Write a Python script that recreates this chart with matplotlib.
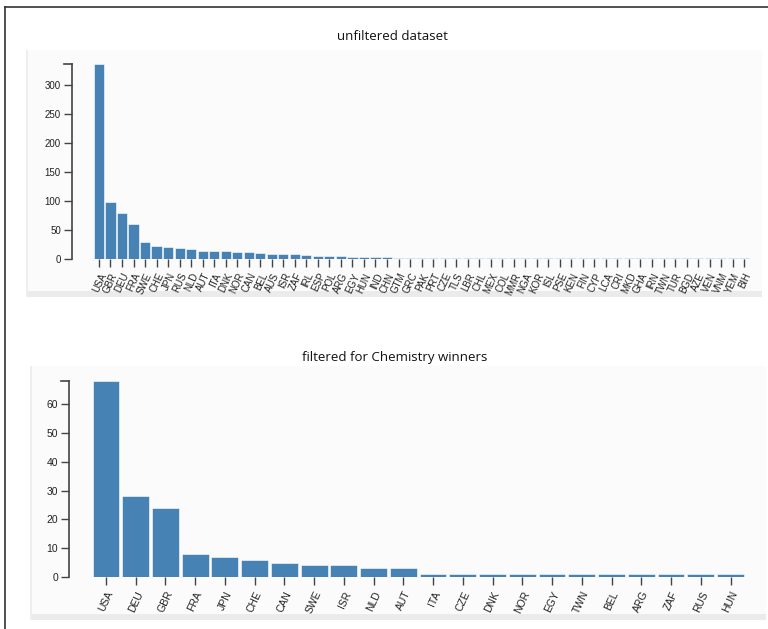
import matplotlib.pyplot as plt
from matplotlib.patches import Rectangle
from matplotlib.lines import Line2D

# all winners by country
all_countries = ['USA', 'GBR', 'DEU', 'FRA', 'SWE', 'CHE', 'JPN', 'RUS', 'NLD', 'AUT',
                 'ITA', 'DNK', 'NOR', 'CAN', 'BEL', 'AUS', 'ISR', 'ZAF', 'IRL', 'ESP',
                 'POL', 'ARG', 'EGY', 'HUN', 'IND', 'CHN', 'GTM', 'GRC', 'PAK', 'PRT',
                 'CZE', 'TLS', 'LBR', 'CHL', 'MEX', 'COL', 'MMR', 'NGA', 'KOR', 'ISL',
                 'PSE', 'KEN', 'FIN', 'CYP', 'LCA', 'CRI', 'MKD', 'GHA', 'IRN', 'TWN',
                 'TUR', 'BGD', 'AZE', 'VEN', 'VNM', 'YEM', 'BIH']
all_counts = [336, 98, 79, 60, 29, 23, 21, 19, 17, 14,
              13, 13, 12, 12, 10, 9, 9, 8, 7, 6,
              5, 5, 4, 3, 3, 3, 2, 2, 2, 2,
              2, 2, 2, 2, 2, 1, 1, 1, 1, 1,
              1, 1, 1, 1, 1, 1, 1, 1, 1, 1,
              1, 1, 1, 1, 1, 1, 1]

# chemistry winners by country
chem_countries = ['USA', 'DEU', 'GBR', 'FRA', 'JPN', 'CHE', 'CAN', 'SWE', 'ISR', 'NLD',
                  'AUT', 'ITA', 'CZE', 'DNK', 'NOR', 'EGY', 'TWN', 'BEL', 'ARG', 'ZAF',
                  'RUS', 'HUN']
chem_counts = [68, 28, 24, 8, 7, 6, 5, 4, 4, 3,
               3, 1, 1, 1, 1, 1, 1, 1, 1, 1,
               1, 1]

W, H = 768, 629
fig = plt.figure(figsize=(W / 100, H / 100), dpi=100)
fig.patch.set_facecolor('white')

def px(x0, y0, x1, y1):
    # pixel box (top-left origin) -> figure fraction rect
    return [x0 / W, 1 - y1 / H, (x1 - x0) / W, (y1 - y0) / H]

# outer frame (left + top)
fig.add_artist(Line2D([5 / W, 5 / W], [0, 1 - 7 / H], color='#333333', lw=1.2))
fig.add_artist(Line2D([5 / W, 1], [1 - 7 / H, 1 - 7 / H], color='#333333', lw=1.2))

# panels
for (x0, y0, x1, y1) in [(26, 50, 762, 297), (30, 366, 766, 620)]:
    fig.add_artist(Rectangle((x0 / W, 1 - y1 / H), (x1 - x0) / W, (y1 - y0) / H,
                             transform=fig.transFigure, facecolor='#fbfbfb',
                             edgecolor='none', zorder=0))
    fig.add_artist(Rectangle((x0 / W, 1 - y1 / H), (x1 - x0) / W, 6 / H,
                             transform=fig.transFigure, facecolor='#ebebeb',
                             edgecolor='none', zorder=0))
    fig.add_artist(Rectangle((x0 / W, 1 - y1 / H), 2 / W, (y1 - y0) / H,
                             transform=fig.transFigure, facecolor='#eeeeee',
                             edgecolor='none', zorder=0))

title_font = ['Liberation Sans Narrow', 'Open Sans', 'DejaVu Sans']
fig.text(392 / W, 1 - 37 / H, 'unfiltered dataset', ha='center', va='center',
         fontsize=9.5, family=title_font, color='#111111')
fig.text(395 / W, 1 - 358 / H, 'filtered for Chemistry winners', ha='center',
         va='center', fontsize=9.5, family=title_font, color='#111111')


def bar_chart(rect, names, vals, ymax, yticks, xlim, width, lab_size):
    ax = fig.add_axes(rect)
    ax.set_facecolor('none')
    x = list(range(len(names)))
    ax.bar(x, vals, width=width, color='#4682b4', edgecolor='#ffffff',
           linewidth=0.4, zorder=2)
    ax.set_xlim(*xlim)
    ax.set_ylim(0, ymax)
    for s in ['top', 'right', 'bottom']:
        ax.spines[s].set_visible(False)
    ax.spines['left'].set_color('#444444')
    ax.spines['left'].set_linewidth(1.2)
    # outer tick at top of domain (d3 style)
    ax.plot([-0.012, 0], [1, 1], transform=ax.transAxes, color='#444444',
            lw=1.2, clip_on=False)
    ax.set_yticks(yticks)
    ax.set_xticks(x)
    ax.set_xticklabels(names, rotation=65, ha='right', va='top',
                       rotation_mode='anchor', family='Liberation Sans',
                       fontsize=lab_size, color='#222222')
    for lab in ax.get_yticklabels():
        lab.set_family('Liberation Sans')
    ax.tick_params(axis='y', length=6, width=1, color='#444444',
                   labelsize=lab_size, labelcolor='#222222', pad=2)
    ax.tick_params(axis='x', length=6, width=1, color='#444444', pad=3)
    return ax


bar_chart(px(72, 64, 752, 259), all_countries, all_counts, 336,
          [0, 50, 100, 150, 200, 250, 300], (-2.34, 56.68), 0.88, 7)
bar_chart(px(69, 381, 752, 577), chem_countries, chem_counts, 68,
          [0, 10, 20, 30, 40, 50, 60], (-1.24, 21.72), 0.9, 7.5)

fig.savefig('out.png', dpi=100)
